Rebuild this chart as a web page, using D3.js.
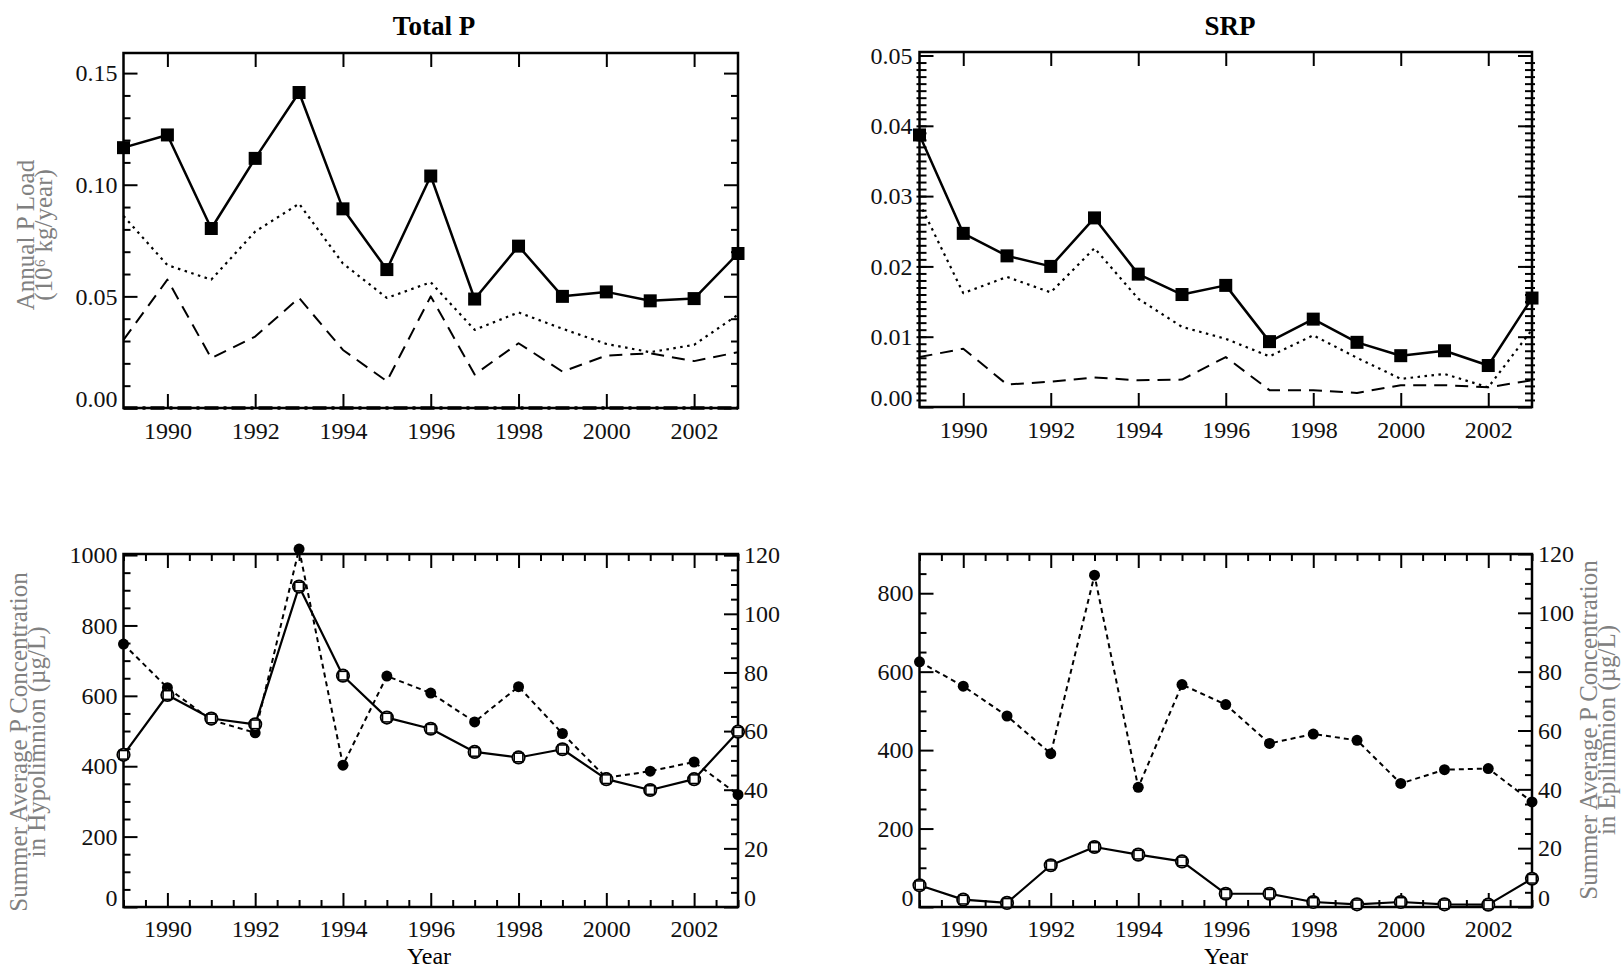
<!DOCTYPE html>
<html><head><meta charset="utf-8">
<script src="https://cdn.jsdelivr.net/npm/d3@7"></script>
<style>
html,body{margin:0;padding:0;background:#fff;}
svg{display:block;}
text{font-family:"Liberation Serif","Times New Roman",serif;}
</style></head>
<body><svg id="c" width="1623" height="969"></svg>
<script>
// ---------------- DATA ----------------
const years = [1989,1990,1991,1992,1993,1994,1995,1996,1997,1998,1999,2000,2001,2002,2003];

// Total P annual load (10^6 kg/year)
const tpTotal  = [0.1166,0.1223,0.0804,0.1118,0.1413,0.0892,0.0620,0.1039,0.0488,0.0725,0.0500,0.0520,0.0480,0.0490,0.0692];
const tpDotted = [0.0860,0.0640,0.0575,0.0790,0.0915,0.0647,0.0493,0.0563,0.0350,0.0428,0.0355,0.0287,0.0250,0.0283,0.0418];
const tpDashed = [0.0305,0.0575,0.0223,0.0320,0.0493,0.0260,0.0120,0.0500,0.0150,0.0290,0.0163,0.0235,0.0245,0.0210,0.0250];
const tpZero   = [0,0,0,0,0,0,0,0,0,0,0,0,0,0,0];

// SRP annual load
const srpTotal  = [0.0387,0.0247,0.0215,0.0200,0.0269,0.0189,0.0160,0.0173,0.0093,0.0125,0.0092,0.0073,0.0080,0.0059,0.0155];
const srpDotted = [0.0290,0.0162,0.0185,0.0163,0.0226,0.0154,0.0114,0.0097,0.0072,0.0102,0.0070,0.0040,0.0047,0.0028,0.0110];
const srpDashed = [0.0071,0.0083,0.0032,0.0036,0.0042,0.0038,0.0039,0.0071,0.0024,0.0024,0.0020,0.0031,0.0031,0.0028,0.0038];

// Summer average concentrations (ug/L)
const hypoTP  = [747,623,531,495,1017,403,656,608,526,626,493,367,386,412,319];
const epiTP   = [51.9,72.3,64.3,62.3,109.3,78.9,64.6,60.8,52.9,51.0,53.8,43.6,39.9,43.6,59.8];
const hypoSRP = [625,563,487,391,846,305,567,516,417,441,425,315,350,353,268];
const epiSRP  = [7.4,2.5,1.4,14.2,20.4,17.8,15.5,4.5,4.5,1.7,0.9,1.7,0.9,0.8,9.6];

// tick labels
const yearTicks = [1990,1992,1994,1996,1998,2000,2002];
const tpTicks   = [0.00,0.05,0.10,0.15];
const srpTicks  = [0.00,0.01,0.02,0.03,0.04,0.05];
const hypoTPTicks  = [0,200,400,600,800,1000];
const hypoSRPTicks = [0,200,400,600,800];
const epiTicks  = [0,20,40,60,80,100,120];

const titles = ["Total P","SRP"];

// ---------------- DRAW ----------------
const svg = d3.select("#c");
const FS = 24;
const GRAY = "#808080";

function fmtZeroShift(sel){
  sel.selectAll(".tick text").filter(d => d === 0).attr("dy","-0.08em");
}

function makePanel(o){
  const g = svg.append("g");
  const x = d3.scaleLinear().domain([1989,2003]).range([o.x0,o.x1]);
  const yL = d3.scaleLinear().domain(o.yDom).range([o.y1,o.y0]);
  const yR = o.yRDom ? d3.scaleLinear().domain(o.yRDom).range([o.y1,o.y0]) : yL;

  g.append("g").attr("transform",`translate(0,${o.y1})`)
    .call(d3.axisBottom(x).tickValues(yearTicks).tickSize(-14).tickPadding(o.xPad).tickFormat(d3.format("d")));
  if (o.xMinor) g.append("g").attr("transform",`translate(0,${o.y1})`)
    .call(d3.axisBottom(x).tickValues(o.xMinor).tickSize(-7).tickFormat(""));
  g.append("g").attr("transform",`translate(0,${o.y0})`)
    .call(d3.axisTop(x).tickValues(yearTicks).tickSize(-14).tickFormat(""));
  if (o.xMinor) g.append("g").attr("transform",`translate(0,${o.y0})`)
    .call(d3.axisTop(x).tickValues(o.xMinor).tickSize(-7).tickFormat(""));

  const la = g.append("g").attr("transform",`translate(${o.x0},0)`)
    .call(d3.axisLeft(yL).tickValues(o.yTicks).tickSize(-14).tickPadding(o.yPad).tickFormat(o.yFmt));
  fmtZeroShift(la);
  if (o.yMinor) {
    const lm = g.append("g").attr("transform",`translate(${o.x0},0)`)
      .call(d3.axisLeft(yL).tickValues(o.yMinor).tickSize(-7).tickFormat(""));
    if (o.outMinor) lm.selectAll(".tick line").attr("x1",-3);
  }
  if (o.yRDom) {
    const ra = g.append("g").attr("transform",`translate(${o.x1},0)`)
      .call(d3.axisRight(yR).tickValues(o.yRTicks).tickSize(-14).tickPadding(6).tickFormat(d3.format("d")));
    fmtZeroShift(ra);
    g.append("g").attr("transform",`translate(${o.x1},0)`)
      .call(d3.axisRight(yR).tickValues(o.yRMinor).tickSize(-7).tickFormat(""));
  } else {
    g.append("g").attr("transform",`translate(${o.x1},0)`)
      .call(d3.axisRight(yL).tickValues(o.yTicks).tickSize(-14).tickFormat(""));
    if (o.yMinor) {
      const rm = g.append("g").attr("transform",`translate(${o.x1},0)`)
        .call(d3.axisRight(yL).tickValues(o.yMinor).tickSize(-7).tickFormat(""));
      if (o.outMinor) rm.selectAll(".tick line").attr("x1",3);
    }
  }
  g.selectAll(".domain").remove();
  g.selectAll(".tick line").attr("stroke","#000").attr("stroke-width",2);
  g.selectAll(".tick text").attr("font-size",FS).attr("fill","#111")
    .style("font-family",'"Liberation Serif","Times New Roman",serif');

  g.append("rect").attr("x",o.x0).attr("y",o.y0).attr("width",o.x1-o.x0).attr("height",o.y1-o.y0)
    .attr("fill","none").attr("stroke","#000").attr("stroke-width",2.5);

  return {g,x,yL,yR};
}

function drawLine(p, scaleY, vals, width, dash){
  const line = d3.line().x((d,i)=>p.x(years[i])).y(d=>scaleY(d));
  p.g.append("path").datum(vals).attr("d",line).attr("fill","none")
    .attr("stroke","#000").attr("stroke-width",width)
    .attr("stroke-dasharray",dash||null).attr("stroke-linejoin","round");
}
function drawSquares(p, scaleY, vals, size){
  p.g.selectAll(null).data(vals).join("rect")
    .attr("x",(d,i)=>p.x(years[i])-size/2).attr("y",d=>scaleY(d)-size/2)
    .attr("width",size).attr("height",size).attr("fill","#000");
}
function drawDots(p, scaleY, vals, r){
  p.g.selectAll(null).data(vals).join("circle")
    .attr("cx",(d,i)=>p.x(years[i])).attr("cy",d=>scaleY(d)).attr("r",r).attr("fill","#000");
}
function drawOpen(p, scaleY, vals){
  p.g.selectAll(null).data(vals).join("circle")
    .attr("cx",(d,i)=>p.x(years[i])).attr("cy",d=>scaleY(d)).attr("r",6.2)
    .attr("fill","#fff").attr("stroke","#000").attr("stroke-width",1.8);
  p.g.selectAll(null).data(vals).join("rect")
    .attr("x",(d,i)=>p.x(years[i])-4.3).attr("y",d=>scaleY(d)-4.3)
    .attr("width",8.6).attr("height",8.6)
    .attr("fill","none").attr("stroke","#000").attr("stroke-width",1.5);
}

const halfYears = d3.range(1989,2003.01,0.5).filter(v => !yearTicks.includes(v));

// ---- Top-left: Total P ----
const tl = makePanel({x0:123.5,x1:738,y0:53,y1:408,yDom:[0,0.159],
  yTicks:tpTicks,yMinor:[0.01,0.02,0.03,0.04,0.06,0.07,0.08,0.09,0.11,0.12,0.13,0.14],
  yFmt:d3.format(".2f"),xPad:14,yPad:6});
drawLine(tl, tl.yL, tpZero, 3.5, "14,5,3,5");
drawLine(tl, tl.yL, tpDashed, 2, "13,8");
drawLine(tl, tl.yL, tpDotted, 2.2, "2.5,4.5");
drawLine(tl, tl.yL, tpTotal, 2.5);
drawSquares(tl, tl.yL, tpTotal, 13);

// ---- Top-right: SRP ----
const tr = makePanel({x0:919.5,x1:1532,y0:52,y1:407,yDom:[0,0.0505],
  yTicks:srpTicks,yMinor:d3.range(0.001,0.05,0.001),outMinor:true,
  yFmt:d3.format(".2f"),xPad:14,yPad:7});
drawLine(tr, tr.yL, srpDashed, 2, "13,8");
drawLine(tr, tr.yL, srpDotted, 2.2, "2.5,4.5");
drawLine(tr, tr.yL, srpTotal, 2.5);
drawSquares(tr, tr.yL, srpTotal, 13);

// ---- Bottom-left: TP concentrations ----
const bl = makePanel({x0:123.5,x1:738,y0:554,y1:907,yDom:[0,1003],
  yTicks:hypoTPTicks,yMinor:d3.range(50,1000,50).filter(v=>v%200),
  yRDom:[0,120.4],yRTicks:epiTicks,yRMinor:d3.range(5,120,5).filter(v=>v%20),
  xMinor:halfYears,yFmt:d3.format("d"),xPad:13,yPad:6});
drawLine(bl, bl.yL, hypoTP, 2, "5,4");
drawLine(bl, bl.yR, epiTP, 2.2);
drawDots(bl, bl.yL, hypoTP, 5.5);
drawOpen(bl, bl.yR, epiTP);

// ---- Bottom-right: SRP concentrations ----
const br = makePanel({x0:919.5,x1:1532,y0:554,y1:907,yDom:[0,900],
  yTicks:hypoSRPTicks,yMinor:d3.range(50,900,50).filter(v=>v%200),
  yRDom:[0,120],yRTicks:epiTicks,yRMinor:d3.range(5,120,5).filter(v=>v%20),
  xMinor:halfYears,yFmt:d3.format("d"),xPad:13,yPad:6});
drawLine(br, br.yL, hypoSRP, 2, "5,4");
drawLine(br, br.yR, epiSRP, 2.2);
drawDots(br, br.yL, hypoSRP, 5.5);
drawOpen(br, br.yR, epiSRP);

// ---- Titles ----
svg.append("text").attr("x",434).attr("y",35).attr("text-anchor","middle")
  .attr("font-size",27).attr("font-weight","bold").text(titles[0]);
svg.append("text").attr("x",1230).attr("y",35).attr("text-anchor","middle")
  .attr("font-size",27).attr("font-weight","bold").text(titles[1]);

// ---- Axis titles ----
function vTitle(cx, cy, lines, gap, fs){
  const t = svg.append("text").attr("transform",`translate(${cx},${cy}) rotate(-90)`)
    .attr("text-anchor","middle").attr("font-size",fs).attr("fill",GRAY);
  lines.forEach((s,i)=>t.append("tspan").attr("x",0).attr("y",i*gap).text(s));
}
vTitle(34, 235, ["Annual P Load","(10\u2076 kg/year)"], 18, 25);
vTitle(27, 742, ["Summer Average P Concentration","in Hypolimnion (\u00b5g/L)"], 18, 25);
vTitle(1597, 730, ["Summer Average P Concentration","in Epilimnion (\u00b5g/L)"], 18, 25);

svg.append("text").attr("x",429).attr("y",964).attr("text-anchor","middle").attr("font-size",24).text("Year");
svg.append("text").attr("x",1226).attr("y",964).attr("text-anchor","middle").attr("font-size",24).text("Year");
</script></body></html>
